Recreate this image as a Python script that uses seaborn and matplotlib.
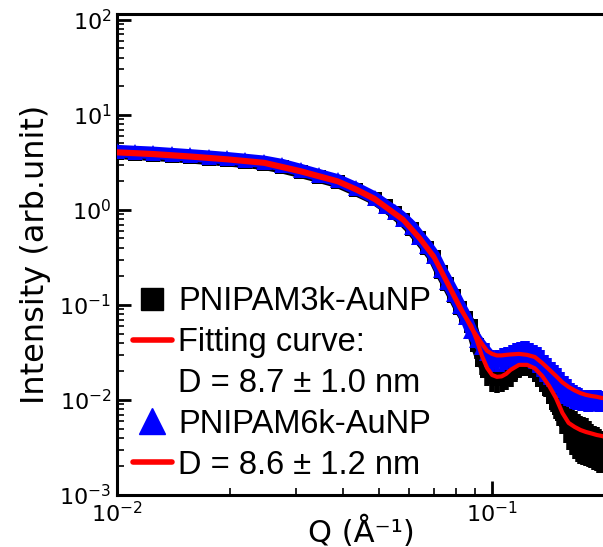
import numpy as np
import matplotlib
matplotlib.use("Agg")
import matplotlib.pyplot as plt
import seaborn as sns
from matplotlib.lines import Line2D

# Scattering vector Q (1/Angstrom) at which both samples were measured
q = [0.0100, 0.0112, 0.0125, 0.0140, 0.0157, 0.0176, 0.0197, 0.0220, 0.0247, 0.0276,
     0.0309, 0.0346, 0.0388, 0.0434, 0.0486,
     0.052, 0.055, 0.058, 0.061, 0.064, 0.067, 0.070, 0.073, 0.076, 0.079,
     0.082, 0.085, 0.088, 0.091, 0.094, 0.097, 0.100, 0.103, 0.106, 0.109,
     0.112, 0.115, 0.118, 0.121, 0.124, 0.127, 0.130, 0.133, 0.136, 0.139,
     0.142, 0.145, 0.148, 0.151, 0.154, 0.157, 0.160, 0.163, 0.166, 0.169,
     0.172, 0.175, 0.178, 0.181, 0.184, 0.187, 0.190, 0.193, 0.196, 0.199]

# PNIPAM3k-AuNP intensity and relative uncertainty
i_3k = [3.98, 3.89, 3.79, 3.70, 3.57, 3.44, 3.32, 3.20, 3.05, 2.80,
        2.51, 2.23, 1.97, 1.62, 1.31,
        1.09, 0.919, 0.775, 0.631, 0.501, 0.398, 0.316, 0.223, 0.166, 0.124,
        0.0929, 0.0730, 0.0601, 0.0377, 0.0264, 0.0202, 0.0174, 0.0165, 0.0167, 0.0178,
        0.0191, 0.0209, 0.0224, 0.0228, 0.0225, 0.0215, 0.0202, 0.0184, 0.0163, 0.0145,
        0.0130, 0.0108, 0.00937, 0.00817, 0.00718, 0.00619, 0.00561, 0.00534, 0.00502, 0.00467,
        0.00445, 0.00434, 0.00424, 0.00399, 0.00376, 0.00358, 0.00350, 0.00333, 0.00321, 0.00321]
rel_err_3k = [0.0] * 27 + [
    0.05, 0.28, 0.305, 0.305, 0.305, 0.28, 0.28, 0.28, 0.28, 0.26,
    0.24, 0.215, 0.215, 0.215, 0.215, 0.24, 0.24, 0.26, 0.28, 0.305,
    0.327, 0.349, 0.39, 0.43, 0.47, 0.505, 0.524, 0.524, 0.524, 0.524,
    0.524, 0.505, 0.488, 0.488, 0.488, 0.488, 0.47, 0.47]

# PNIPAM6k-AuNP intensity and relative uncertainty
i_6k = [4.15, 4.06, 3.98, 3.86, 3.74, 3.62, 3.49, 3.35, 3.20, 2.95,
        2.62, 2.31, 2.04, 1.68, 1.34,
        1.10, 0.953, 0.804, 0.663, 0.520, 0.418, 0.328, 0.234, 0.175, 0.131,
        0.0976, 0.0748, 0.0532, 0.0428, 0.0361, 0.0311, 0.0267, 0.0267, 0.0275, 0.0284,
        0.0298, 0.0311, 0.0321, 0.0326, 0.0320, 0.0306, 0.0286, 0.0265, 0.0245, 0.0221,
        0.0207, 0.0189, 0.0176, 0.0161, 0.0144, 0.0132, 0.0125, 0.0116, 0.0111, 0.0108,
        0.0105, 0.0102, 0.0101, 0.0101, 0.0100, 0.0101, 0.0100, 0.0101, 0.0100, 0.0100]
rel_err_6k = [0.0] * 27 + [
    0.05, 0.08, 0.15, 0.28, 0.26, 0.27, 0.28, 0.27, 0.27, 0.28,
    0.27, 0.28, 0.30, 0.31, 0.33, 0.35, 0.37, 0.35, 0.34, 0.33,
    0.33, 0.35, 0.37, 0.35, 0.33, 0.31, 0.29, 0.27, 0.27, 0.25,
    0.26, 0.26, 0.26, 0.25, 0.26, 0.26, 0.25, 0.26]

# Polydisperse-sphere fitting curves
q_fit = [0.0100, 0.0125, 0.0157, 0.0197, 0.0247, 0.0309, 0.0388, 0.0434, 0.0486, 0.052,
         0.058, 0.064, 0.070, 0.076, 0.082, 0.088, 0.091, 0.094, 0.097, 0.100,
         0.103, 0.106, 0.109, 0.112, 0.118, 0.124, 0.130, 0.136, 0.142, 0.148,
         0.154, 0.160, 0.166, 0.172, 0.178, 0.184, 0.190, 0.196, 0.200]
fit_3k = [3.93, 3.77, 3.55, 3.32, 3.05, 2.48, 1.95, 1.60, 1.27, 1.05,
          0.766, 0.495, 0.312, 0.166, 0.0929, 0.0601, 0.0428, 0.0290, 0.0217, 0.0183,
          0.0175, 0.0177, 0.0188, 0.0207, 0.0234, 0.0234, 0.0215, 0.0179, 0.0140, 0.0105,
          0.0073, 0.00573, 0.00520, 0.00483, 0.00460, 0.00444, 0.00428, 0.00418, 0.00408]
fit_6k = [4.13, 3.96, 3.73, 3.48, 3.20, 2.61, 2.04, 1.68, 1.34, 1.10,
          0.804, 0.520, 0.328, 0.175, 0.0976, 0.0573, 0.0472, 0.0389, 0.0328, 0.0305,
          0.0294, 0.0294, 0.0298, 0.0301, 0.0305, 0.0298, 0.0283, 0.0245, 0.0209, 0.0179,
          0.0153, 0.0137, 0.0126, 0.0118, 0.0113, 0.0110, 0.0108, 0.0105, 0.0104]

legend_labels = ["PNIPAM3k-AuNP", "Fitting curve:", "D = 8.7 \u00b1 1.0 nm",
                 "PNIPAM6k-AuNP", "D = 8.6 \u00b1 1.2 nm"]

sns.set_style("white")
plt.rcParams["font.family"] = ["DejaVu Sans"]
plt.rcParams.update({"text.color": "black", "axes.labelcolor": "black",
                     "xtick.color": "black", "ytick.color": "black"})

BLUE = "#0000ff"
RED = "#ff0000"

q_arr = np.array(q)
i3 = np.array(i_3k)
i6 = np.array(i_6k)

fig = plt.figure(figsize=(6.03, 5.47), dpi=100)
ax = fig.add_axes([0.194, 0.0951, 0.8093, 0.8793])
ax.set_xscale("log")
ax.set_yscale("log")

# PNIPAM3k data: error bars, then markers
ax.errorbar(q_arr, i3, yerr=i3 * np.array(rel_err_3k), fmt="none",
            ecolor="black", elinewidth=4, capsize=0, zorder=2)
sns.lineplot(x=q_arr, y=i3, ax=ax, color="black", marker="s", markersize=10,
             markeredgewidth=0, linewidth=9, estimator=None, sort=False, zorder=2)

# PNIPAM6k data
ax.errorbar(q_arr, i6, yerr=i6 * np.array(rel_err_6k), fmt="none",
            ecolor=BLUE, elinewidth=4, capsize=0, zorder=3)
sns.lineplot(x=q_arr, y=i6, ax=ax, color=BLUE, marker="^", markersize=11,
             markeredgewidth=0, linewidth=9, estimator=None, sort=False, zorder=3)

# Fitting curves
sns.lineplot(x=q_fit, y=fit_3k, ax=ax, color=RED, linewidth=3,
             estimator=None, sort=False, zorder=4)
sns.lineplot(x=q_fit, y=fit_6k, ax=ax, color=RED, linewidth=3,
             estimator=None, sort=False, zorder=4)

ax.set_xlim(0.01, 0.2)
ax.set_ylim(1e-3, 115)

for side in ["left", "bottom", "top", "right"]:
    ax.spines[side].set_linewidth(2.2)
    ax.spines[side].set_color("black")

ax.tick_params(which="major", direction="in", length=10, width=2,
               labelsize=16, pad=4, top=False, right=False, left=True, bottom=True)
ax.tick_params(which="minor", direction="in", length=5, width=1.2,
               top=False, right=False, left=True, bottom=True)
ax.yaxis.set_minor_locator(matplotlib.ticker.LogLocator(base=10, subs=np.arange(2, 10), numticks=20))
ax.yaxis.set_minor_formatter(matplotlib.ticker.NullFormatter())
ax.xaxis.set_minor_formatter(matplotlib.ticker.NullFormatter())

ax.set_ylabel("Intensity (arb.unit)", fontsize=23, labelpad=6)
ax.set_xlabel("Q (\u00c5\u207b\u00b9)", fontsize=22, labelpad=-7)

handles = [
    Line2D([], [], color="black", marker="s", linestyle="none", markersize=16),
    Line2D([], [], color=RED, linewidth=4),
    Line2D([], [], color="none", linestyle="none"),
    Line2D([], [], color=BLUE, marker="^", linestyle="none", markersize=19),
    Line2D([], [], color=RED, linewidth=4),
]
ax.legend(handles, legend_labels, loc="lower left", bbox_to_anchor=(0.032, 0.03),
          frameon=False, prop={"family": "Liberation Sans", "size": 23.5},
          handlelength=1.2, handletextpad=0.2, labelspacing=0.3,
          borderpad=0.0, borderaxespad=0.0)

fig.savefig("out.png", dpi=100)
